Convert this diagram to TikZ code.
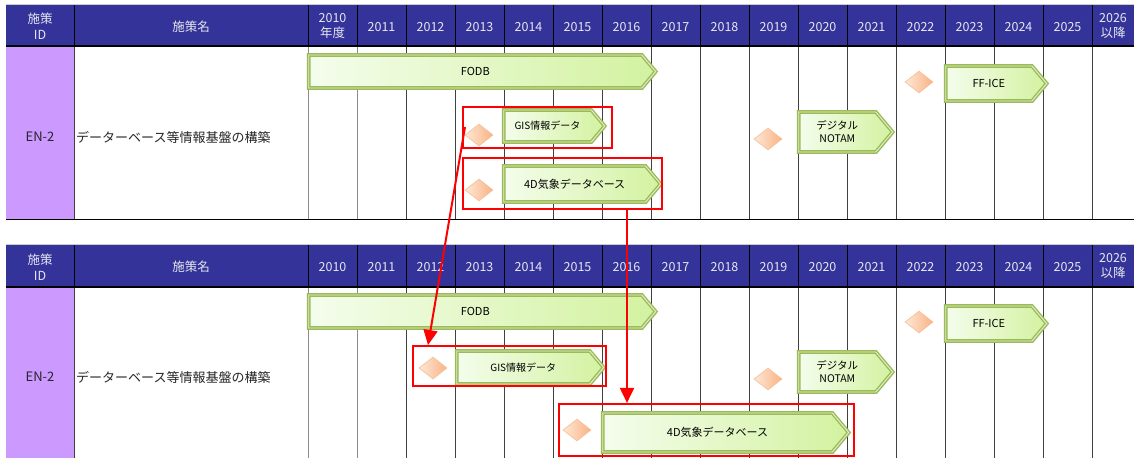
\documentclass[tikz,border=0pt]{standalone}
\usepackage{fontspec}
\setmainfont{Noto Sans CJK JP}
\usetikzlibrary{shapes.arrows,shapes.symbols,shapes.geometric,arrows.meta,shadows}
\definecolor{hdr}{HTML}{333399}
\definecolor{purp}{HTML}{CC99FF}
\definecolor{gbord}{HTML}{9BBB59}
\definecolor{gpale}{HTML}{E4F0C8}
\definecolor{gL}{HTML}{F4FDEC}
\definecolor{gR}{HTML}{D3F2A0}
\definecolor{oL}{HTML}{FDE8D6}
\definecolor{oR}{HTML}{F9B283}
\definecolor{oB}{HTML}{F7BE93}
\definecolor{htxt}{HTML}{E6E6F0}
\definecolor{redc}{HTML}{FF0000}
\begin{document}
\begin{tikzpicture}[x=1pt,y=-1pt,
  gbar/.style={signal, signal to=east, signal from=nowhere, signal pointer angle=100,
    draw=gbord, line width=1.4pt, double=gpale, double distance=0.9pt,
    left color=gL, right color=gR, inner sep=0pt, align=center, anchor=west,
    font=\fontsize{11}{13}\selectfont, text=black,
    drop shadow={opacity=0.25, shadow xshift=1.5pt, shadow yshift=-1.5pt}},
  dmd/.style={diamond, aspect=1.27, minimum width=28pt, minimum height=22pt, inner sep=0pt,
    draw=oB, line width=0.6pt, left color=oL, right color=oR},
  redbox/.style={draw=redc, line width=2.2pt, rectangle, inner sep=0pt},
  redarrow/.style={draw=redc, line width=2pt, -{Triangle[width=14pt,length=15pt]}},
  htext/.style={text=htxt, font=\fontsize{12.5}{15.5}\selectfont, align=center, inner sep=0pt},
  btext/.style={font=\fontsize{13}{15}\selectfont, text=black!85, inner sep=0pt},
  vline/.style={draw=black!75, line width=0.8pt},
  hline/.style={draw=black, line width=0.8pt}
]
\useasboundingbox (0,0) rectangle (1134,458);
\fill[white] (0,0) rectangle (1134,458);

% ===== top table =====
\draw[gray!40, line width=0.8pt] (6,4.5) -- (1134,4.5);
\fill[hdr] (6,5) rectangle (1134,46);
\fill[purp] (6,46) rectangle (74,219);
\foreach \x in {74,308} \draw[hline] (\x,5) -- (\x,46);
\foreach \k in {1,...,16} \draw[hline] ({308+49*\k},5) -- ({308+49*\k},46);
\draw[vline] (74,46) -- (74,219);
\foreach \k in {0,1} \draw[vline, draw=black!45] ({308+49*\k},46) -- ({308+49*\k},219);
\foreach \k in {2,...,16} \draw[vline] ({308+49*\k},46) -- ({308+49*\k},219);
\draw[black, line width=2pt] (6,46) -- (1134,46);
\draw[black, line width=1pt] (6,219) -- (1134,219);
\node[htext] (tid) at (40,26) {施策\\ID};
\node[htext] (tname) at (191,27) {施策名};
\node[htext] (t2010) at (332.5,26) {2010\\年度};
\foreach \k [evaluate=\k as \yr using int(2010+\k)] in {1,...,15}
  \node[htext] (t\yr) at ({308+49*\k+24.5},27) {\yr};
\node[htext] (t2026) at (1113,26) {2026\\以降};
\node[btext] (ten) at (40,137) {EN-2};
\node[btext, anchor=west] (tpol) at (76,137) {データーベース等情報基盤の構築};

% ===== bottom table =====
\draw[gray!40, line width=0.8pt] (6,244.5) -- (1134,244.5);
\fill[hdr] (6,245) rectangle (1134,287);
\fill[purp] (6,287) rectangle (74,458);
\foreach \x in {74,308} \draw[hline] (\x,245) -- (\x,287);
\foreach \k in {1,...,16} \draw[hline] ({308+49*\k},245) -- ({308+49*\k},287);
\draw[vline] (74,287) -- (74,458);
\foreach \k in {0,1} \draw[vline, draw=black!45] ({308+49*\k},287) -- ({308+49*\k},458);
\foreach \k in {2,...,16} \draw[vline] ({308+49*\k},287) -- ({308+49*\k},458);
\draw[black, line width=2pt] (6,287) -- (1134,287);
\node[htext] (bid) at (40,267) {施策\\ID};
\node[htext] (bname) at (191,267) {施策名};
\foreach \k [evaluate=\k as \yr using int(2010+\k)] in {0,...,15}
  \node[htext] (b\yr) at ({308+49*\k+24.5},267) {\yr};
\node[htext] (b2026) at (1113,266) {2026\\以降};
\node[btext] (ben) at (40,377) {EN-2};
\node[btext, anchor=west] (bpol) at (76,377) {データーベース等情報基盤の構築};

% ===== top bars =====
\node[gbar, minimum width=347pt, minimum height=33pt] (fodbT) at (308,71.5) {FODB};
\node[gbar, minimum width=101pt, minimum height=32pt, font=\fontsize{10}{12}\selectfont] (gisT) at (503,126) {GIS情報データ};
\node[gbar, minimum width=157pt, minimum height=36pt] (wxT) at (503,184) {4D気象データベース};
\node[gbar, minimum width=94pt, minimum height=40pt, font=\fontsize{10.5}{13}\selectfont] (notT) at (798,132) {デジタル\\NOTAM};
\node[gbar, minimum width=101pt, minimum height=35pt] (ffT) at (945,83.5) {FF-ICE};
\node[dmd] (dgisT) at (479,135) {};
\node[dmd] (dwxT) at (479,190) {};
\node[dmd] (dnotT) at (768,139) {};
\node[dmd] (dffT) at (919,82) {};

% ===== bottom bars =====
\node[gbar, minimum width=347pt, minimum height=33pt] (fodbB) at (308,311.5) {FODB};
\node[gbar, minimum width=147pt, minimum height=33pt, font=\fontsize{10}{12}\selectfont] (gisB) at (456,367.5) {GIS情報データ};
\node[gbar, minimum width=246pt, minimum height=39pt] (wxB) at (602,432.5) {4D気象データベース};
\node[gbar, minimum width=94pt, minimum height=40pt, font=\fontsize{10.5}{13}\selectfont] (notB) at (798,372) {デジタル\\NOTAM};
\node[gbar, minimum width=101pt, minimum height=35pt] (ffB) at (945,323.5) {FF-ICE};
\node[dmd] (dgisB) at (433,368) {};
\node[dmd] (dwxB) at (577,430) {};
\node[dmd] (dnotB) at (768,379) {};
\node[dmd] (dffB) at (919,322) {};

% ===== red boxes =====
\node[redbox, minimum width=149pt, minimum height=41pt] (rgisT) at (537.5,127.5) {};
\node[redbox, minimum width=199pt, minimum height=51pt] (rwxT) at (562.5,183.5) {};
\node[redbox, minimum width=193pt, minimum height=40pt] (rgisB) at (509.5,366) {};
\node[redbox, minimum width=295pt, minimum height=52pt] (rwxB) at (706.5,430) {};

% ===== red arrows =====
\coordinate (a1s) at (465,127);
\coordinate (a1e) at (428,345);
\draw[redarrow] (a1s) -- (a1e);
\coordinate (a2s) at (627,209);
\draw[redarrow] (a2s) -- (a2s |- rwxB.north);
\end{tikzpicture}
\end{document}
